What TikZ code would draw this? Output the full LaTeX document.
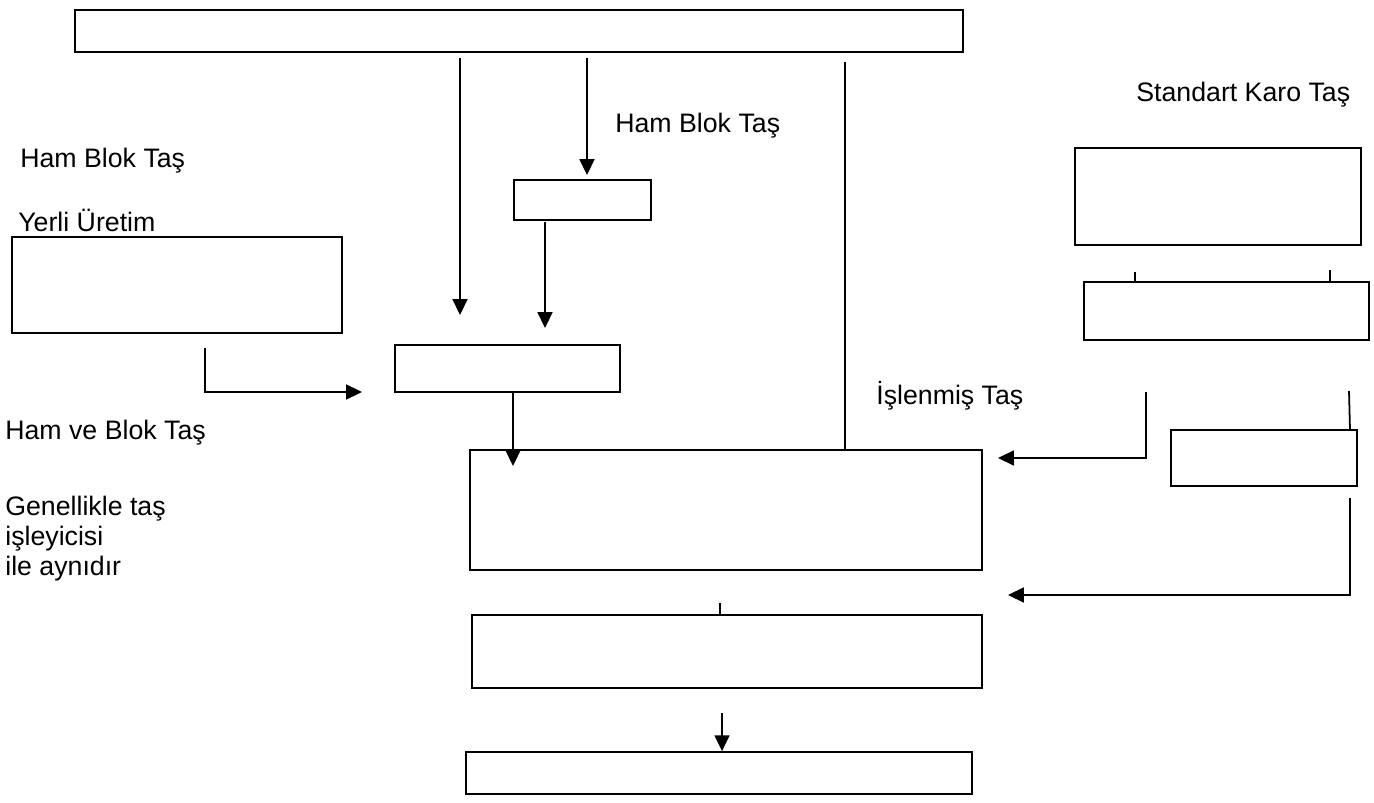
\documentclass[tikz,border=0pt]{standalone}
\usepackage{fontspec}
\setmainfont{Liberation Sans}
\usetikzlibrary{arrows.meta}
\begin{document}
\begin{tikzpicture}
    \tikzstyle{box}=[rectangle, draw, line width=1pt, inner sep=0pt];
    \tikzstyle{lbl}=[anchor=base west, inner sep=0pt, font=\fontsize{15.2}{17}\selectfont, align=left];
    \tikzstyle{arr}=[-{Triangle[length=9pt,width=8.5pt]}];
    \tikzstyle{ln}=[line width=1pt];

    \useasboundingbox (0,0) rectangle (27.48,-16.06);

    \node (top) at (10.38, -0.62) [box, minimum width=17.76cm, minimum height=0.84cm] {};
    \node (blk) at (11.65, -4.0) [box, minimum width=2.74cm, minimum height=0.8cm] {};
    \node (yerli) at (3.54, -5.7) [box, minimum width=6.6cm, minimum height=1.92cm] {};
    \node (mid) at (10.15, -7.37) [box, minimum width=4.5cm, minimum height=0.94cm] {};
    \node (big) at (14.52, -10.2) [box, minimum width=10.24cm, minimum height=2.4cm] {};
    \node (below) at (14.54, -13.03) [box, minimum width=10.2cm, minimum height=1.46cm] {};
    \node (bottom) at (14.38, -15.46) [box, minimum width=10.12cm, minimum height=0.84cm] {};

    \node (karo) at (24.36, -3.93) [box, minimum width=5.72cm, minimum height=1.94cm] {};
    \node (karo2) at (24.53, -6.22) [box, minimum width=5.7cm, minimum height=1.16cm] {};
    \node (islen) at (25.28, -9.16) [box, minimum width=3.72cm, minimum height=1.12cm] {};

    \node (lkaro) at (22.72, -2.04) [lbl] {Standart Karo Taş};
    \node (lham1) at (12.3, -2.66) [lbl] {Ham Blok Taş};
    \node (lham2) at (0.4, -3.36) [lbl] {Ham Blok Taş};
    \node (lyerli) at (0.36, -4.64) [lbl] {Yerli Üretim};
    \node (lislen) at (17.52, -8.1) [lbl] {İşlenmiş Taş};
    \node (lhamve) at (0.1, -8.8) [lbl] {Ham ve Blok Taş};
    \node (lgenel) at (0.1, -11.5) [lbl] {Genellikle taş\\işleyicisi\\ile aynıdır};

    \coordinate (a1) at (9.2, -1.16);   \coordinate (a1e) at (9.2, -6.3);
    \coordinate (a2) at (11.74, -1.16); \coordinate (a2e) at (11.74, -3.5);
    \coordinate (a3) at (16.9, -1.24);
    \coordinate (a4) at (10.9, -4.44);  \coordinate (a4e) at (10.9, -6.56);
    \coordinate (a5) at (4.1, -6.96);   \coordinate (a5e) at (7.24, -7.84);
    \coordinate (a6) at (10.26, -7.86); \coordinate (a6e) at (10.26, -9.32);
    \coordinate (a7) at (22.92, -7.84); \coordinate (a7e) at (19.96, -9.16);
    \coordinate (a8) at (26.98, -7.82);
    \coordinate (a9) at (27.0, -9.96);  \coordinate (a9e) at (20.16, -11.9);
    \coordinate (a10) at (14.4, -12.06);
    \coordinate (a11) at (14.44, -14.26);
    \coordinate (k1) at (22.7, -5.44);
    \coordinate (k2) at (26.6, -5.4);

    \draw[ln] (a1) edge[arr] (a1e);
    \draw[ln] (a2) edge[arr] (a2e);
    \draw[ln] (a3) -- (a3 |- big.north);
    \draw[ln] (a4) edge[arr] (a4e);
    \draw[ln, arr] (a5) |- (a5e);
    \draw[ln] (a6) edge[arr] (a6e);
    \draw[ln, arr] (a7) |- (a7e);
    \draw[ln] (a8) -- (27.0, -8.6);
    \draw[ln, arr] (a9) |- (a9e);
    \draw[ln] (a10) -- (a10 |- below.north);
    \draw[ln, arr] (a11) -- (a11 |- bottom.north);
    \draw[ln] (k1) -- (k1 |- karo2.north);
    \draw[ln] (k2) -- (k2 |- karo2.north);

\end{tikzpicture}
\end{document}
